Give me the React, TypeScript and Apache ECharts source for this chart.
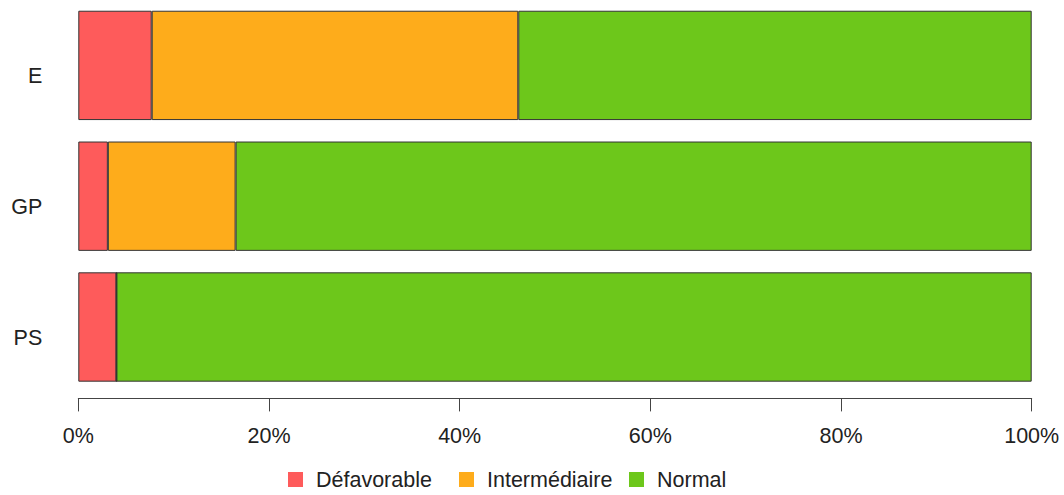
import React, { useEffect, useRef } from "react";
import * as echarts from "echarts";

const categories: string[] = ["E", "GP", "PS"];
const seriesNames: string[] = ["Défavorable", "Intermédiaire", "Normal"];
const defavorable: number[] = [7.7, 3.1, 4.0];
const intermediaire: number[] = [38.45, 13.4, 0];
const normal: number[] = [53.85, 83.5, 96.0];
const xTicks: number[] = [0, 20, 40, 60, 80, 100];
const colors: string[] = ["#FE5B5B", "#FEAC1B", "#6DC71B"];

const FONT = "'Liberation Sans', Arial, sans-serif";

export default function App() {
  const ref = useRef<HTMLDivElement>(null);
  useEffect(() => {
    if (!ref.current) return;
    const chart = echarts.init(ref.current, undefined, { renderer: "svg" });
    const values = [defavorable, intermediaire, normal];
    const legendLefts = [288, 459, 629];
    chart.setOption({
      animation: false,
      backgroundColor: "#ffffff",
      textStyle: { fontFamily: FONT },
      grid: { left: 78.3, right: 32.3, top: 0, bottom: 102.6, containLabel: false },
      legend: seriesNames.map((n, i) => ({
        data: [n],
        left: legendLefts[i],
        top: 468.5,
        padding: 0,
        itemWidth: 15,
        itemHeight: 15,
        icon: "rect",
        itemStyle: { borderWidth: 0 },
        textStyle: {
          fontFamily: FONT,
          fontSize: 21.5,
          color: "#222",
          lineHeight: 15,
          padding: [0, 0, 0, 8],
        },
        selectedMode: false,
      })),
      xAxis: {
        type: "value",
        min: xTicks[0],
        max: xTicks[xTicks.length - 1],
        interval: 20,
        offset: 6,
        axisLine: { show: true, lineStyle: { color: "#444", width: 1 } },
        axisTick: { show: true, length: 13, lineStyle: { color: "#444", width: 1 } },
        splitLine: { show: false },
        axisLabel: {
          formatter: (v: number) => v + "%",
          fontFamily: FONT,
          fontSize: 21.5,
          color: "#222",
          margin: 27,
        },
      },
      yAxis: {
        type: "category",
        data: categories,
        inverse: true,
        axisLine: { show: false },
        axisTick: { show: false },
        splitLine: { show: false },
        axisLabel: {
          fontFamily: FONT,
          fontSize: 21.5,
          color: "#222",
          margin: 36,
          verticalAlign: "top",
          lineHeight: 22,
        },
      },
      series: seriesNames.map((n, i) => ({
        name: n,
        type: "bar",
        stack: "total",
        barCategoryGap: "16.4%",
        data: values[i],
        itemStyle: { color: colors[i], borderColor: "#333", borderWidth: 1 },
        emphasis: { disabled: true },
      })),
    });
    return () => chart.dispose();
  }, []);
  return (
    <div
      ref={ref}
      style={{ position: "fixed", left: 0, top: 0, width: 1064, height: 495 }}
    />
  );
}
